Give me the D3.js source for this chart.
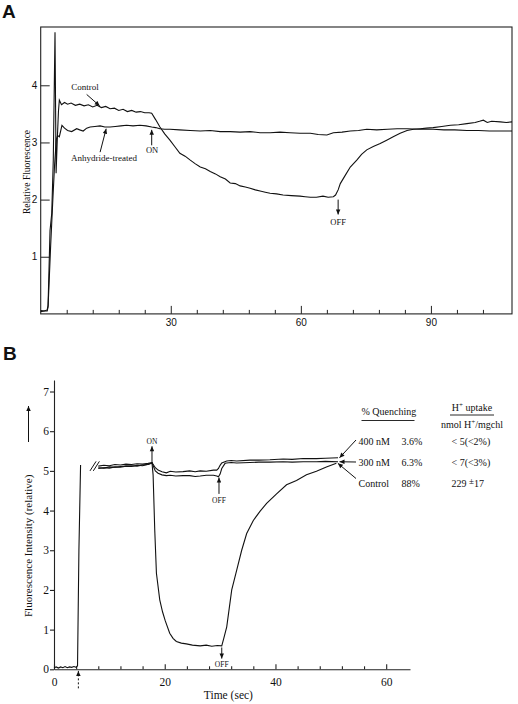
<!DOCTYPE html>
<html><head><meta charset="utf-8">
<script src="https://cdn.jsdelivr.net/npm/d3@7"></script>
<style>body{margin:0;background:#fff}svg{display:block}</style>
</head><body>
<svg id="c" width="518" height="704"></svg>
<script>
// ---------- Panel A data ----------
const xTicksA = [30, 60, 90];
const xMinorA = [6, 12, 18, 24, 36, 42, 48, 54, 66, 72, 78, 84, 96, 102];
const yTicksA = [1, 2, 3, 4];
const tControlA = [0,0.8,1.5,1.7,2.15,2.55,2.9,3.3,3.55,3.85,4.1,4.3,4.8,5.5,6.2,7,8,9,10,11,12,13,14,15,16,17,18,19,20,21,22,23,24,25,25.6,26.5,27.5,28.6,29.8,31,32.1,33.3,34.5,35.6,36.8,38,39.1,40.3,41.4,42.6,43.7,44.9,46,47.2,48.3,49.5,50.6,51.8,52.9,54.4,55.9,57.8,59.8,61,62.2,63.6,65.1,66.3,67.5,68,68.6,69.1,70.2,71.4,72.9,74,75.2,76.7,78.3,79.8,81.3,82.9,84.5,86,87.5,89,90.5,92.5,94.5,96.4,98.3,100.2,101.2,102.1,103,104,106,107.4,108.7];
const vControlA = [0.06,0.05,0.07,0.15,1.46,1.76,2.69,4.93,2.46,3.1,3.55,3.74,3.66,3.70,3.67,3.69,3.65,3.67,3.64,3.66,3.62,3.65,3.61,3.63,3.59,3.60,3.56,3.58,3.54,3.56,3.53,3.54,3.52,3.52,3.51,3.40,3.27,3.15,3.04,2.92,2.81,2.76,2.69,2.63,2.57,2.54,2.49,2.45,2.40,2.36,2.29,2.28,2.24,2.22,2.20,2.17,2.15,2.13,2.11,2.10,2.08,2.07,2.06,2.05,2.04,2.04,2.06,2.04,2.05,2.08,2.17,2.28,2.42,2.57,2.69,2.79,2.87,2.93,2.98,3.04,3.10,3.16,3.21,3.23,3.24,3.25,3.26,3.28,3.30,3.31,3.33,3.35,3.37,3.39,3.35,3.37,3.36,3.35,3.36];
const tAnhydA = [0,0.8,1.5,1.7,2.3,2.8,3.2,3.6,3.9,4.3,4.9,5.5,6.2,7.15,8.3,9,9.8,10.6,11.4,12.5,13.7,14.8,16,17.2,18.5,19.8,21.3,22.9,24.3,25.6,26.5,27.5,28.6,29.8,32,34.5,36.8,39.1,41.4,43.7,46,48.3,50.6,52.9,55.2,57.5,59.8,62.2,64,66,67.5,69.5,71.4,73.3,75.2,77.5,80,82.2,84.5,87.5,90.5,93,95.5,98.3,101,103.5,106,108.7];
const vAnhydA = [0.04,0.05,0.05,0.12,1.2,2.0,2.6,3.05,3.12,3.1,3.30,3.25,3.21,3.19,3.24,3.22,3.20,3.25,3.27,3.28,3.29,3.27,3.27,3.28,3.29,3.30,3.29,3.30,3.29,3.27,3.26,3.24,3.23,3.23,3.22,3.21,3.20,3.21,3.19,3.19,3.18,3.19,3.17,3.17,3.18,3.17,3.16,3.16,3.14,3.13,3.17,3.18,3.20,3.21,3.23,3.22,3.23,3.24,3.24,3.23,3.23,3.22,3.22,3.21,3.21,3.20,3.20,3.20];

// ---------- Panel B data ----------
const xTicksB = [0, 20, 40, 60];
const xMinorB = [4, 8, 12, 16, 24, 28, 32, 36, 44, 48, 52, 56];
const yTicksB = [0, 1, 2, 3, 4, 5, 6, 7];
const tPreB = [0,0.4,0.8,1.2,1.6,2,2.4,2.8,3.2,3.6,4.0,4.25,4.5,4.8];
const vPreB = [0.04,0.06,0.03,0.06,0.04,0.07,0.04,0.06,0.05,0.07,0.05,0.09,3.0,5.15];
const t400 = [8.0,9,10,11,12,13,14,15,16,17,17.7,18.3,18.8,19.5,20.3,21,22,23.3,24.5,25.5,26.4,27.5,28.8,29.4,29.7,30.0,30.3,31.2,32,33,35.4,37,39,41.4,43,45,47.4,49,51.3];
const v400 = [5.12,5.14,5.13,5.16,5.15,5.17,5.16,5.18,5.17,5.19,5.21,5.08,5.02,4.98,4.95,4.99,4.97,4.98,5.00,4.98,5.00,4.99,5.02,5.02,5.06,5.14,5.20,5.25,5.26,5.25,5.27,5.27,5.28,5.30,5.29,5.31,5.31,5.32,5.33];
const t300 = [8.0,9,10,11,12,13,14,15,16,17,17.7,18.3,18.8,19.5,20.3,21,22,23.3,24.5,25.5,26.4,27.5,28.8,29.4,29.7,30.0,30.3,30.9,31.2,32,33,35.4,37,39,41.4,43,45,47.4,49,51.3];
const v300 = [5.08,5.07,5.10,5.09,5.11,5.12,5.13,5.12,5.15,5.16,5.20,5.00,4.94,4.90,4.88,4.89,4.87,4.88,4.88,4.86,4.87,4.89,4.89,4.87,4.85,4.92,5.06,5.19,5.20,5.21,5.20,5.21,5.22,5.22,5.23,5.22,5.23,5.23,5.24,5.23];
const tCtlB = [8.0,9,10,11,12,13,14,15,16,17,17.7,17.9,18.2,18.5,19.1,19.6,20.1,20.9,21.5,22.1,23,23.9,25,26.4,27.5,28.5,29.5,30.3,30.7,31.2,32.1,33,33.9,34.8,36,37.2,38.4,40.2,42,43.8,45.6,47.4,49.2,51];
const vCtlB = [5.06,5.08,5.07,5.10,5.09,5.12,5.11,5.14,5.13,5.17,5.20,4.9,3.5,2.42,1.75,1.45,1.22,0.91,0.78,0.70,0.66,0.64,0.61,0.59,0.61,0.58,0.60,0.59,0.80,1.07,2.0,2.5,3.0,3.42,3.75,3.98,4.18,4.42,4.65,4.76,4.90,4.99,5.10,5.19];
const concLabels = ["400 nM", "300 nM", "Control"];
const quenchLabels = ["3.6%", "6.3%", "88%"];
const uptakeLabels = ["< 5(<2%)", "< 7(<3%)", "229 "];

const SERIF = "'Liberation Serif','Times New Roman',serif";
const SANS = "'Liberation Sans',Arial,sans-serif";
const svg = d3.select("#c");
svg.append("rect").attr("width", 518).attr("height", 704).attr("fill", "#fff");
const defs = svg.append("defs");
defs.append("marker").attr("id", "arr").attr("viewBox", "0 0 10 10")
  .attr("refX", 10).attr("refY", 5).attr("markerWidth", 6).attr("markerHeight", 5)
  .attr("markerUnits", "userSpaceOnUse").attr("orient", "auto")
  .append("path").attr("d", "M0,0.5L10,5L0,9.5Z").attr("fill", "#111");

function arrow(g, x1, y1, x2, y2, dash) {
  const l = g.append("line").attr("x1", x1).attr("y1", y1).attr("x2", x2).attr("y2", y2)
    .attr("stroke", "#111").attr("stroke-width", 1).attr("marker-end", "url(#arr)");
  if (dash) l.attr("stroke-dasharray", dash);
  return l;
}
function label(g, x, y, txt, size, anchor, fam) {
  return g.append("text").attr("x", x).attr("y", y).attr("text-anchor", anchor || "middle")
    .attr("font-family", fam || SERIF).attr("font-size", size).attr("fill", "#111").text(txt);
}

// ---------- Panel A ----------
const xA = d3.scaleLinear().domain([0, 108.7]).range([40.7, 512]);
const yA = d3.scaleLinear().domain([0, 5.02]).range([313.9, 27]);
const gA = svg.append("g");
gA.append("rect").attr("x", xA(0)).attr("y", yA(5.02)).attr("width", xA(108.7) - xA(0))
  .attr("height", yA(0) - yA(5.02)).attr("fill", "none").attr("stroke", "#222").attr("stroke-width", 1.1);
const axA1 = gA.append("g").attr("transform", `translate(0,${yA(0)})`)
  .call(d3.axisBottom(xA).tickValues(xTicksA).tickSize(-8).tickPadding(5).tickFormat(d3.format("d")));
const axA2 = gA.append("g").attr("transform", `translate(0,${yA(0)})`)
  .call(d3.axisBottom(xA).tickValues(xMinorA).tickSize(-4).tickFormat(""));
const axA3 = gA.append("g").attr("transform", `translate(${xA(0)},0)`)
  .call(d3.axisLeft(yA).tickValues(yTicksA).tickSize(-9).tickPadding(3.5).tickFormat(d3.format("d")));
[axA1, axA2, axA3].forEach(a => {
  a.select(".domain").remove();
  a.selectAll("line").attr("stroke", "#222");
  a.selectAll("text").attr("font-family", SANS).attr("font-size", 10).attr("fill", "#111");
});
const lineA = d3.line().x(d => xA(d[0])).y(d => yA(d[1]));
gA.append("path").attr("d", lineA(d3.zip(tControlA, vControlA))).attr("fill", "none").attr("stroke", "#111").attr("stroke-width", 1.1);
gA.append("path").attr("d", lineA(d3.zip(tAnhydA, vAnhydA))).attr("fill", "none").attr("stroke", "#111").attr("stroke-width", 1.1);
label(gA, 30, 172, "Relative Fluorescence", 9.5).attr("transform", "rotate(-90,30,172)");
label(gA, xA(10.2), yA(3.92), "Control", 9);
arrow(gA, xA(10.6), yA(3.84), xA(13.6), yA(3.64));
label(gA, xA(14.6), yA(2.68), "Anhydride-treated", 9);
arrow(gA, xA(13.7), yA(2.83), xA(15.1), yA(3.24));
label(gA, xA(25.7), yA(2.81), "ON", 8.5);
arrow(gA, xA(25.6), yA(2.95), xA(25.6), yA(3.22));
arrow(gA, xA(68.6), yA(2.0), xA(68.6), yA(1.74));
label(gA, xA(68.6), yA(1.55), "OFF", 8.5);
svg.append("text").attr("x", 2).attr("y", 18).attr("font-family", SANS).attr("font-weight", "bold")
  .attr("font-size", 19).attr("fill", "#111").text("A");

// ---------- Panel B ----------
const xB = d3.scaleLinear().domain([0, 64.3]).range([54, 410]);
const yB = d3.scaleLinear().domain([0, 7.29]).range([669.3, 380]);
const gB = svg.append("g");
const axB1 = gB.append("g").attr("transform", `translate(0,${yB(0)})`)
  .call(d3.axisBottom(xB).tickValues(xTicksB).tickSize(-5).tickSizeOuter(0).tickPadding(9).tickFormat(d3.format("d")));
const axB2 = gB.append("g").attr("transform", `translate(0,${yB(0)})`)
  .call(d3.axisBottom(xB).tickValues(xMinorB).tickSize(-3).tickFormat(""));
axB2.select(".domain").remove();
const axB3 = gB.append("g").attr("transform", `translate(${xB(0)},0)`)
  .call(d3.axisLeft(yB).tickValues(yTicksB).tickSize(4).tickSizeOuter(0).tickPadding(1).tickFormat(d3.format("d")));
[axB1, axB2, axB3].forEach(a => {
  a.selectAll("line,path").attr("stroke", "#222").attr("stroke-width", 1.1);
  a.selectAll("text").attr("font-family", SERIF).attr("font-size", 11.5).attr("fill", "#111");
});
const lineB = d3.line().x(d => xB(d[0])).y(d => yB(d[1]));
[[tPreB, vPreB], [t400, v400], [t300, v300], [tCtlB, vCtlB]].forEach(([t, v]) => {
  gB.append("path").attr("d", lineB(d3.zip(t, v))).attr("fill", "none").attr("stroke", "#111").attr("stroke-width", 1.1);
});
// axis break marks
[[6.5, 7.6], [7.1, 8.2]].forEach(([a, b]) => {
  gB.append("line").attr("x1", xB(a)).attr("y1", yB(5.0)).attr("x2", xB(b)).attr("y2", yB(5.24))
    .attr("stroke", "#111").attr("stroke-width", 1);
});
// ON / OFF markers
arrow(gB, xB(17.7), yB(5.2), xB(17.7), yB(5.62));
label(gB, xB(17.7), yB(5.68), "ON", 7.5);
arrow(gB, xB(29.8), yB(4.42), xB(29.8), yB(4.83));
label(gB, xB(29.8), yB(4.2), "OFF", 7.5);
arrow(gB, xB(30.3), yB(0.55), xB(30.3), yB(0.27));
label(gB, xB(30.3), yB(0.07), "OFF", 7.5);
arrow(gB, xB(4.4), yB(-0.48), xB(4.4), yB(-0.04), "2,2");
// axis titles
label(gB, xB(31.5), 699, "Time (sec)", 11.5);
label(gB, 32, 617, "Fluorescence Intensity (relative)", 11, "start").attr("transform", "rotate(-90,32,617)");
arrow(gB, 28.5, 442, 28.5, 406);
// table
const colConc = 358.5, colQ = 401.5, colU = 451.5;
const rowY = [445, 466, 486.5];
const ends = [[t400, v400], [t300, v300], [tCtlB, vCtlB]];
label(gB, 361.5, 415, "% Quenching", 10, "start");
gB.append("line").attr("x1", 361.5).attr("x2", 414.5).attr("y1", 420.5).attr("y2", 420.5).attr("stroke", "#111").attr("stroke-width", 0.9);
const hu = label(gB, 472, 411, "", 10);
hu.append("tspan").text("H");
hu.append("tspan").attr("dy", -4).attr("font-size", 7).text("+");
hu.append("tspan").attr("dy", 4).text(" uptake");
gB.append("line").attr("x1", 450).attr("x2", 494).attr("y1", 415).attr("y2", 415).attr("stroke", "#111").attr("stroke-width", 0.9);
const hn = label(gB, 472, 428, "", 10);
hn.append("tspan").text("nmol H");
hn.append("tspan").attr("dy", -4).attr("font-size", 7).text("+");
hn.append("tspan").attr("dy", 4).text("/mgchl");
concLabels.forEach((c, i) => {
  label(gB, colConc, rowY[i], c, 10, "start");
  label(gB, colQ, rowY[i], quenchLabels[i], 10, "start");
  const u = label(gB, colU, rowY[i], uptakeLabels[i], 10, "start");
  if (i === 2) {
    u.append("tspan").attr("dy", -3).attr("font-size", 9).text("±");
    u.append("tspan").attr("dy", 3).text("17");
  }
  const [t, v] = ends[i];
  const ex = xB(t[t.length - 1]) + 1.5, ey = yB(v[v.length - 1]);
  arrow(gB, colConc - 2.5, rowY[i] - 4 + (i === 0 ? -1 : i === 2 ? -4 : 0), ex, ey);
});
svg.append("text").attr("x", 3).attr("y", 360).attr("font-family", SANS).attr("font-weight", "bold")
  .attr("font-size", 19).attr("fill", "#111").text("B");
</script>
</body></html>
